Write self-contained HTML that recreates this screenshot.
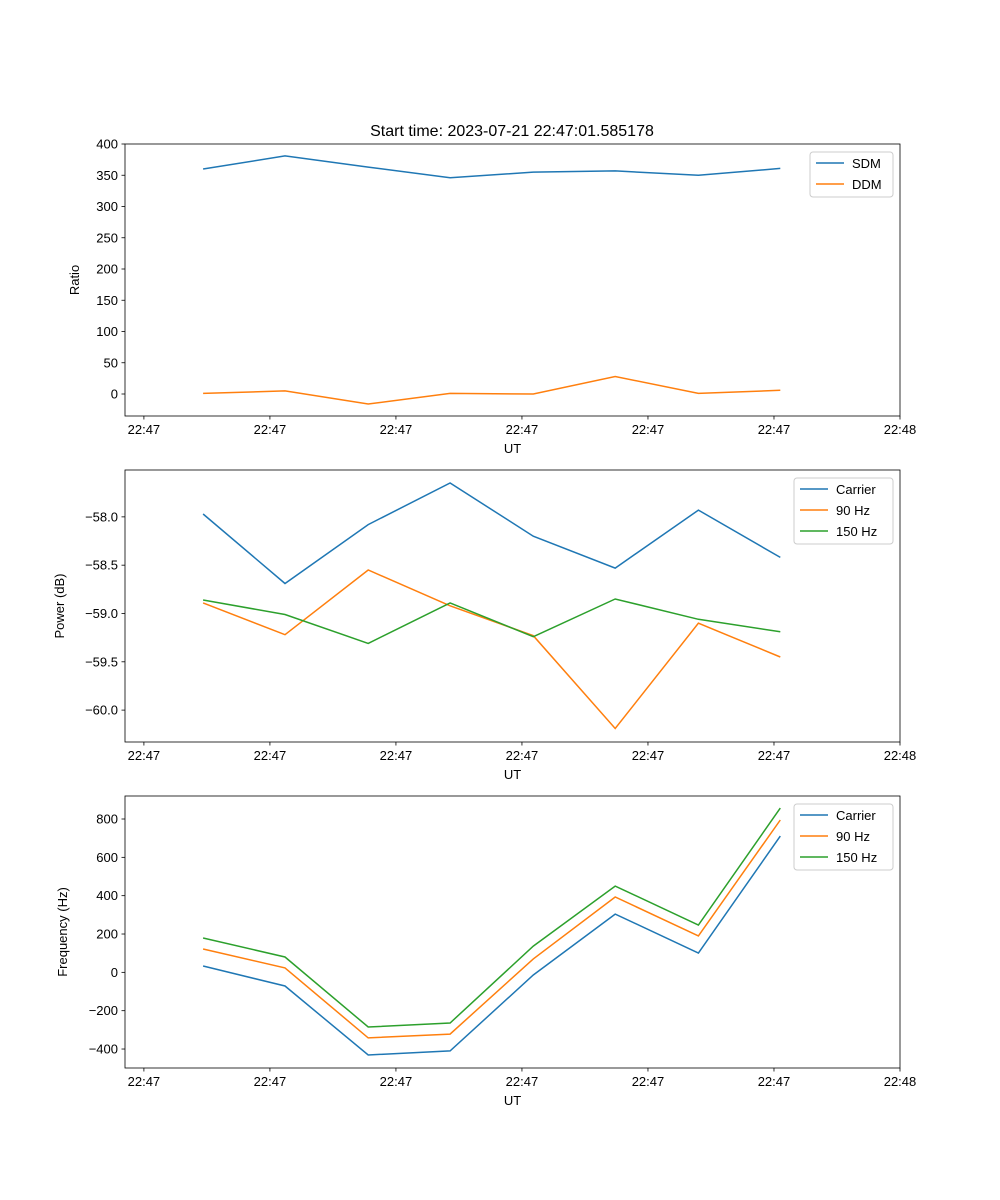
<!DOCTYPE html>
<html><head><meta charset="utf-8"><style>
body{margin:0;background:#fff;}
svg{display:block;font-family:"Liberation Sans","DejaVu Sans",sans-serif;}
</style></head><body>
<svg id="fig" width="1000" height="1200" viewBox="0 0 1000 1200">
<rect width="1000" height="1200" fill="#fff"/>
<text x="512" y="136" font-size="16" text-anchor="middle">Start time: 2023-07-21 22:47:01.585178</text>
</svg>
<script>
const times = [4.7, 11.2, 17.8, 24.3, 30.9, 37.4, 44.0, 50.5];
const xTicks = [0, 10, 20, 30, 40, 50, 60];
const xTickLabels = ["22:47","22:47","22:47","22:47","22:47","22:47","22:48"];
const sdm = [360, 381, 363, 346, 355, 357, 350, 361];
const ddm = [1, 5, -16, 1, 0, 28, 1, 6];
const powCarrier = [-57.97, -58.69, -58.08, -57.65, -58.20, -58.53, -57.93, -58.42];
const pow90 = [-58.89, -59.22, -58.55, -58.92, -59.23, -60.19, -59.10, -59.45];
const pow150 = [-58.86, -59.01, -59.31, -58.89, -59.24, -58.85, -59.06, -59.19];
const freqCarrier = [33, -71, -431, -410, -14, 304, 101, 711];
const freq90 = [122, 23, -342, -322, 70, 393, 190, 795];
const freq150 = [179, 80, -285, -264, 137, 450, 247, 857];
const ticks1 = [0,50,100,150,200,250,300,350,400];
const ticks2 = [-60.0,-59.5,-59.0,-58.5,-58.0];
const ticks3 = [-400,-200,0,200,400,600,800];

const NS="http://www.w3.org/2000/svg";
const svg=document.getElementById('fig');
function mk(tag,attrs,parent){const e=document.createElementNS(NS,tag);for(const k in attrs)e.setAttribute(k,attrs[k]);(parent||svg).appendChild(e);return e;}
const C={b:"#1f77b4",o:"#ff7f0e",g:"#2ca02c"};
const L=125,R=900,xmin=-1.5,xmax=60;
const xs=v=>L+(v-xmin)/(xmax-xmin)*(R-L);

function panel(name,top,bot,ymin,ymax,yt,fmt,ylabel,series,legW){
  const ys=v=>bot-(v-ymin)/(ymax-ymin)*(bot-top);
  const g=mk('g',{});
  
  
  series.forEach(s=>{
    const pts=times.map((t,i)=>xs(t).toFixed(1)+','+ys(s.v[i]).toFixed(1)).join(' ');
    const p=mk('polyline',{points:pts,fill:'none',stroke:s.c,'stroke-width':1.5},g);
    
    
  });
  mk('rect',{x:L,y:top,width:R-L,height:bot-top,fill:'none',stroke:'#000','stroke-width':0.8},g);
  xTicks.forEach((t,i)=>{
    const x=xs(t);
    mk('line',{x1:x,x2:x,y1:bot,y2:bot+3.5,stroke:'#000','stroke-width':0.8},g);
    const tx=mk('text',{x:x,y:bot+18,'font-size':13,'text-anchor':'middle'},g);tx.textContent=xTickLabels[i];
    
    
  });
  yt.forEach(v=>{
    const y=ys(v);
    mk('line',{x1:L-3.5,x2:L,y1:y,y2:y,stroke:'#000','stroke-width':0.8},g);
    const tx=mk('text',{x:L-7,y:y+4.5,'font-size':13,'text-anchor':'end'},g);tx.textContent=fmt(v);
    
    
  });
  const xl=mk('text',{x:(L+R)/2,y:bot+37,'font-size':13,'text-anchor':'middle'},g);xl.textContent='UT';
  
  
  const yl=mk('text',{x:0,y:0,'font-size':13,'text-anchor':'middle',transform:`translate(${ylabel.x},${(top+bot)/2}) rotate(-90)`},g);yl.textContent=ylabel.t;
  
  
  const lx=R-7-legW, ly=top+8;
  const lg=mk('g',{},g);
  
  
  mk('rect',{x:lx,y:ly,width:legW,height:series.length*21+3,rx:3,fill:'#fff','fill-opacity':0.8,stroke:'#ccc'},lg);
  series.forEach((s,i)=>{
    const yy=ly+11+i*21;
    mk('line',{x1:lx+6,x2:lx+34,y1:yy,y2:yy,stroke:s.c,'stroke-width':1.5},lg);
    const tx=mk('text',{x:lx+42,y:yy+5,'font-size':13},lg);tx.textContent=s.label;
    
    
  });
}
panel('ratio-panel',144,416,-35.2,400,ticks1,v=>String(v),{x:79,t:'Ratio'},
  [{v:sdm,c:C.b,n:'sdm-line',label:'SDM'},{v:ddm,c:C.o,n:'ddm-line',label:'DDM'}],83);
panel('power-panel',470,742,-60.33,-57.515,ticks2,v=>'\u2212'+Math.abs(v).toFixed(1),{x:64,t:'Power (dB)'},
  [{v:powCarrier,c:C.b,n:'power-carrier-line',label:'Carrier'},{v:pow90,c:C.o,n:'power-90hz-line',label:'90 Hz'},{v:pow150,c:C.g,n:'power-150hz-line',label:'150 Hz'}],99);
panel('frequency-panel',796,1068,-499,920,ticks3,v=>v<0?'\u2212'+Math.abs(v):String(v),{x:67,t:'Frequency (Hz)'},
  [{v:freqCarrier,c:C.b,n:'freq-carrier-line',label:'Carrier'},{v:freq90,c:C.o,n:'freq-90hz-line',label:'90 Hz'},{v:freq150,c:C.g,n:'freq-150hz-line',label:'150 Hz'}],99);
</script>
</body></html>
